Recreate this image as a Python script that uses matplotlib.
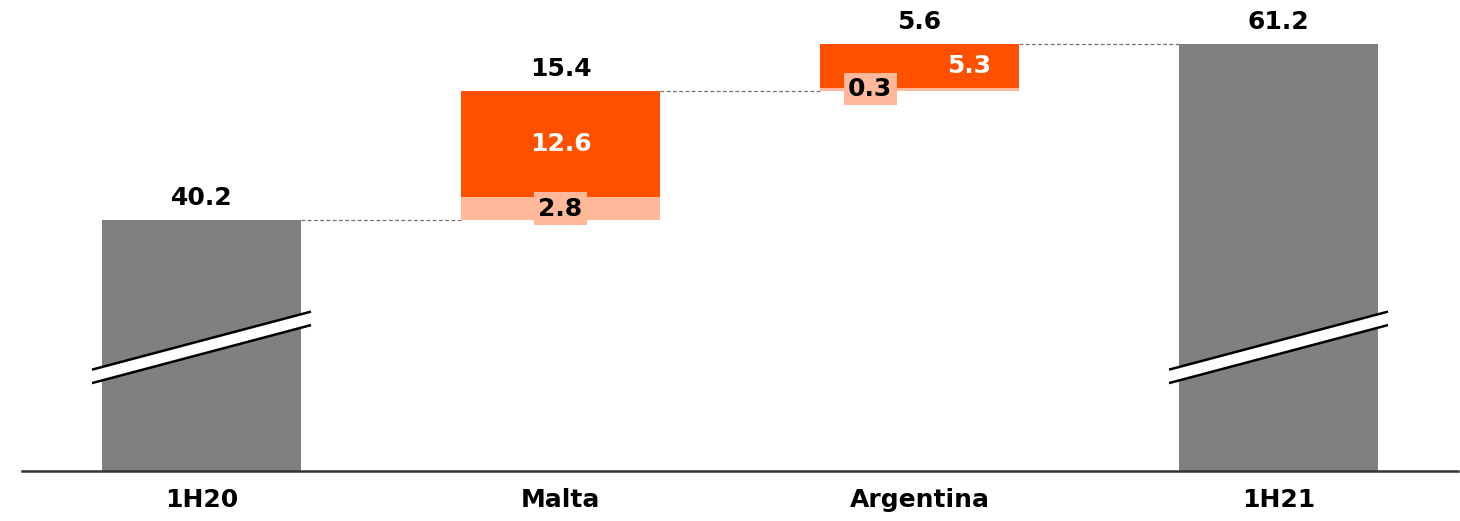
import matplotlib.pyplot as plt
from matplotlib.patches import Polygon

# datos del gráfico
categorias = ['1H20', 'Malta', 'Argentina', '1H21']
inicio = 40.2
fin = 61.2
parte_clara = [2.8, 0.3]     # Malta, Argentina
parte_naranja = [12.6, 5.3]
totales_delta = [15.4, 5.6]

GRIS = '#808080'
NARANJA = '#FF5000'
CLARO = '#FFB899'

plt.rcParams['font.family'] = ['DejaVu Sans']

fig = plt.figure(figsize=(14.6, 5.21), dpi=100)
ax = fig.add_axes([22 / 1460, 50 / 521, 1436 / 1460, 471 / 521])
ax.set_xlim(-0.5, 3.5)
ax.set_ylim(10.4, 66.4)

ancho = 0.557
piso = 10.4

# barras totales
ax.bar([0, 3], [inicio - piso, fin - piso], bottom=piso, width=ancho, color=GRIS, zorder=2)

# barras intermedias (apiladas)
base = inicio
tops = [inicio]
for i, (c, n) in enumerate(zip(parte_clara, parte_naranja)):
    x = i + 1
    ax.bar(x, c, bottom=base, width=ancho, color=CLARO, zorder=2)
    ax.bar(x, n, bottom=base + c, width=ancho, color=NARANJA, zorder=2)
    base = base + c + n
    tops.append(base)

# líneas punteadas de conexión
for i, t in enumerate(tops):
    ax.plot([i + ancho / 2, i + 1 - ancho / 2], [t, t], ls='--', color='#707070', lw=0.9, dashes=(3, 2), zorder=1)

# etiquetas de totales
fs = 18
ax.text(0, inicio + 1.2, f'{inicio:.1f}', ha='center', va='bottom', fontsize=fs, fontweight='bold')
ax.text(3, fin + 1.2, f'{fin:.1f}', ha='center', va='bottom', fontsize=fs, fontweight='bold')
for i, tot in enumerate(totales_delta):
    ax.text(i + 1, tops[i + 1] + 1.2, f'{tot:.1f}', ha='center', va='bottom', fontsize=fs, fontweight='bold')

# etiquetas internas
# Malta
b = inicio
ax.text(1, b + parte_clara[0] / 2, f'{parte_clara[0]:.1f}', ha='center', va='center', fontsize=fs,
        fontweight='bold', bbox=dict(facecolor=CLARO, edgecolor='none', pad=3), zorder=4)
ax.text(1, b + parte_clara[0] + parte_naranja[0] / 2, f'{parte_naranja[0]:.1f}', ha='center', va='center',
        fontsize=fs, fontweight='bold', color='white', zorder=4)
# Argentina
b = tops[1]
ax.text(2 - 0.137, b + parte_clara[1] - 0.1, f'{parte_clara[1]:.1f}', ha='center', va='center', fontsize=fs,
        fontweight='bold', bbox=dict(facecolor=CLARO, edgecolor='none', pad=3), zorder=4)
ax.text(2 + 0.137, b + parte_clara[1] + parte_naranja[1] / 2, f'{parte_naranja[1]:.1f}', ha='center',
        va='center', fontsize=fs, fontweight='bold', color='white', zorder=4)

# marcas de corte del eje
y_corte = 25.1
dx = 0.305
dy = 3.45
gap = 0.8
for x in [0, 3]:
    xs = [x - dx, x + dx]
    sup = [y_corte - dy + gap, y_corte + dy + gap]
    inf = [y_corte - dy - gap, y_corte + dy - gap]
    ax.add_patch(Polygon([(xs[0], sup[0]), (xs[1], sup[1]), (xs[1], inf[1]), (xs[0], inf[0])],
                         closed=True, facecolor='white', edgecolor='none', zorder=3))
    ax.plot(xs, sup, color='black', lw=1.8, zorder=3, solid_capstyle='butt')
    ax.plot(xs, inf, color='black', lw=1.8, zorder=3, solid_capstyle='butt')

# ejes
for s in ['top', 'right', 'left']:
    ax.spines[s].set_visible(False)
ax.spines['bottom'].set_color('#333333')
ax.spines['bottom'].set_linewidth(1.8)
ax.set_yticks([])
ax.set_xticks(range(4))
ax.set_xticklabels(categorias, fontsize=fs, fontweight='bold')
ax.tick_params(axis='x', length=0, pad=12)

fig.savefig('out.png', dpi=100)
